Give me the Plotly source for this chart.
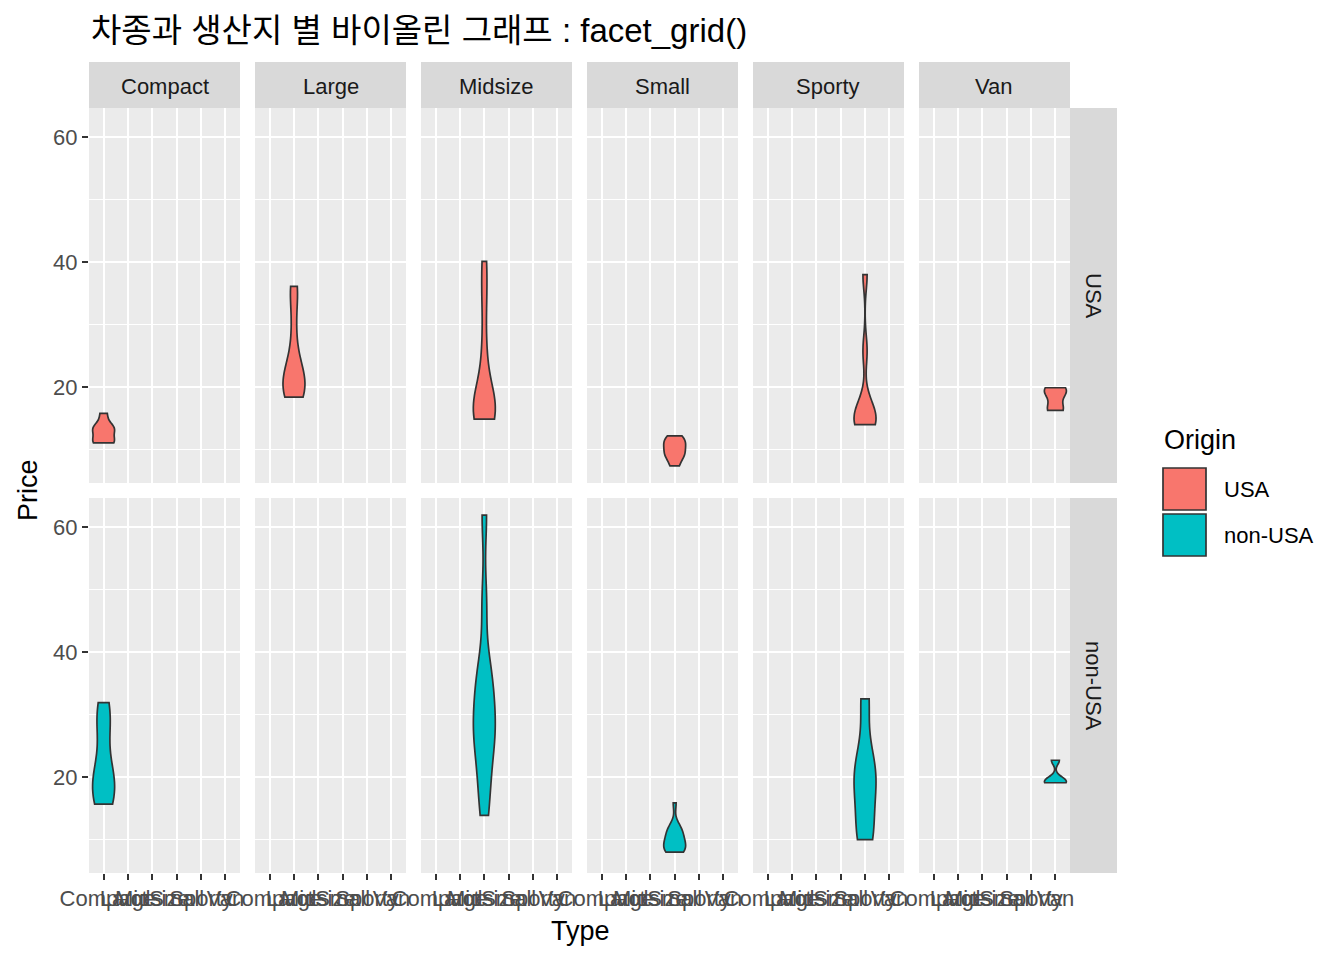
import numpy as np
import plotly.graph_objects as go

# ---------------- data (MASS::Cars93, Price by Type and Origin) ----------------
types = ["Compact", "Large", "Midsize", "Small", "Sporty", "Van"]
origins = ["USA", "non-USA"]

usa_compact = [13.4, 11.4, 15.8, 13.3, 11.3, 13.5, 11.1]
usa_large = [20.8, 23.7, 34.7, 18.8, 18.4, 29.5, 19.3, 20.9, 36.1, 20.7, 24.4]
usa_midsize = [15.7, 26.3, 40.1, 15.9, 15.6, 20.2, 34.3, 14.9, 16.3, 18.5]
usa_small = [9.2, 11.3, 12.2, 7.4, 10.1, 9.0, 11.1]
usa_sporty = [15.1, 38.0, 25.8, 15.9, 14.0, 14.1, 14.4, 17.7]
usa_van = [16.3, 16.6, 19.0, 19.9, 19.5]

nonusa_compact = [29.1, 17.5, 16.5, 31.9, 15.7, 28.7, 19.5, 20.0, 22.7]
nonusa_large = []
nonusa_midsize = [33.9, 37.7, 30.0, 13.9, 47.9, 28.0, 35.2, 61.9, 26.1, 21.5, 18.2, 26.7]
nonusa_small = [15.9, 8.4, 12.1, 8.0, 10.0, 8.3, 11.6, 10.3, 11.8, 8.4, 10.9, 8.6, 9.8, 9.1]
nonusa_sporty = [12.5, 19.8, 10.0, 32.5, 18.4, 23.3]
nonusa_van = [19.1, 19.1, 22.7, 19.7]

y_ticks = [20, 40, 60]
y_minor = [10, 30, 50]

prices = {
    "USA": [usa_compact, usa_large, usa_midsize, usa_small, usa_sporty, usa_van],
    "non-USA": [nonusa_compact, nonusa_large, nonusa_midsize, nonusa_small, nonusa_sporty, nonusa_van],
}
fill_colors = {"USA": "#F8766D", "non-USA": "#00BFC4"}

# ---------------- layout geometry (pixels) ----------------
W, H = 1344, 960
col_px = [(89, 240), (255, 406), (421, 572), (587, 738), (753, 904), (919, 1070)]
row_px = [(108, 483), (498, 873)]
strip_top = (62, 108)
strip_right = (1070, 1117)

FONT = "Liberation Sans, Arial, Noto Sans CJK KR, sans-serif"


def fx(p):
    return p / W


def fy(p):
    return 1 - p / H


def nrd0(x):
    x = np.asarray(x, dtype=float)
    hi = np.std(x, ddof=1)
    iqr = np.percentile(x, 75) - np.percentile(x, 25)
    lo = min(hi, iqr / 1.34)
    if not lo:
        lo = hi or abs(x[0]) or 1.0
    return 0.9 * lo * len(x) ** (-0.2)


all_vals = [v for o in origins for g in prices[o] for v in g]
ymin, ymax = min(all_vals), max(all_vals)
pad = 0.05 * (ymax - ymin)
y_range = [ymin - pad, ymax + pad]

fig = go.Figure()
layout_axes = {}
shapes = []
annotations = []

for r, origin in enumerate(origins):
    for c, tname in enumerate(types):
        k = r * 6 + c + 1
        xa = "x" if k == 1 else f"x{k}"
        ya = "y" if k == 1 else f"y{k}"
        xkey = "xaxis" if k == 1 else f"xaxis{k}"
        ykey = "yaxis" if k == 1 else f"yaxis{k}"
        vals = prices[origin][c]
        if len(vals) > 0:
            fig.add_trace(go.Violin(
                x=[tname] * len(vals), y=vals,
                xaxis=xa, yaxis=ya,
                name=f"{origin}-{tname}", scalegroup=f"{origin}-{tname}",
                scalemode="width", spanmode="hard", bandwidth=nrd0(vals),
                points=False, box_visible=False, meanline_visible=False,
                fillcolor=fill_colors[origin],
                line=dict(color="#333333", width=1.7),
                opacity=1, showlegend=False, hoveron="violins",
            ))
        else:
            # empty panel: keep the subplot drawn
            fig.add_trace(go.Scatter(x=[], y=[], xaxis=xa, yaxis=ya, mode="markers",
                                     showlegend=False, hoverinfo="skip"))
        x0, x1 = col_px[c]
        y0, y1 = row_px[r]
        layout_axes[xkey] = dict(
            domain=[fx(x0), fx(x1)], anchor=ya, automargin=False,
            type="category", categoryorder="array", categoryarray=types,
            range=[-0.6, len(types) - 0.4],
            tickmode="array", tickvals=types, ticktext=types,
            showticklabels=(r == 1), tickangle=0,
            ticks="outside" if r == 1 else "", ticklen=6, tickwidth=2, tickcolor="#333333",
            tickfont=dict(family=FONT, size=22, color="#4D4D4D"),
            showgrid=True, gridcolor="white", gridwidth=2.2,
            zeroline=False, showline=False, fixedrange=True,
        )
        layout_axes[ykey] = dict(
            domain=[fy(y1), fy(y0)], anchor=xa, automargin=False,
            range=y_range, tickmode="array", tickvals=y_ticks,
            showticklabels=(c == 0),
            ticks="outside" if c == 0 else "", ticklen=6, tickwidth=2, tickcolor="#333333",
            tickfont=dict(family=FONT, size=22, color="#4D4D4D"),
            showgrid=True, gridcolor="white", gridwidth=2.2,
            minor=dict(tickmode="array", tickvals=y_minor, showgrid=True,
                       gridcolor="white", gridwidth=1.1, ticks=""),
            zeroline=False, showline=False, fixedrange=True,
        )

# strips on top (Type)
for c, tname in enumerate(types):
    x0, x1 = col_px[c]
    shapes.append(dict(type="rect", xref="paper", yref="paper",
                       x0=fx(x0), x1=fx(x1), y0=fy(strip_top[1]), y1=fy(strip_top[0]),
                       fillcolor="#D9D9D9", line=dict(width=0), layer="below"))
    annotations.append(dict(text=tname, xref="paper", yref="paper",
                            x=fx((x0 + x1) / 2), y=fy((strip_top[0] + strip_top[1]) / 2 + 1),
                            xanchor="center", yanchor="middle", showarrow=False,
                            font=dict(family=FONT, size=22, color="#1A1A1A")))

# strips on right (Origin)
for r, origin in enumerate(origins):
    y0, y1 = row_px[r]
    shapes.append(dict(type="rect", xref="paper", yref="paper",
                       x0=fx(strip_right[0]), x1=fx(strip_right[1]), y0=fy(y1), y1=fy(y0),
                       fillcolor="#D9D9D9", line=dict(width=0), layer="below"))
    annotations.append(dict(text=origin, xref="paper", yref="paper",
                            x=fx((strip_right[0] + strip_right[1]) / 2), y=fy((y0 + y1) / 2),
                            xanchor="center", yanchor="middle", showarrow=False, textangle=90,
                            font=dict(family=FONT, size=22, color="#1A1A1A")))

# title and axis titles
annotations.append(dict(
    text="차종과 생산지 별 바이올린 그래프 : facet_grid()",
    xref="paper", yref="paper", x=fx(89), y=fy(30), xanchor="left", yanchor="middle",
    showarrow=False, font=dict(family=FONT, size=33, color="black")))
annotations.append(dict(text="Price", xref="paper", yref="paper", x=fx(28), y=fy(490),
                        xanchor="center", yanchor="middle", showarrow=False, textangle=-90,
                        font=dict(family=FONT, size=27, color="black")))
annotations.append(dict(text="Type", xref="paper", yref="paper", x=fx(580), y=fy(931),
                        xanchor="center", yanchor="middle", showarrow=False,
                        font=dict(family=FONT, size=27, color="black")))

# legend (drawn manually to match ggplot key size)
annotations.append(dict(text="Origin", xref="paper", yref="paper", x=fx(1162), y=fy(440),
                        xanchor="left", yanchor="middle", showarrow=False,
                        font=dict(family=FONT, size=27, color="black")))
key_y = [(468, 510), (514, 556)]
for origin, (ky0, ky1) in zip(origins, key_y):
    shapes.append(dict(type="rect", xref="paper", yref="paper",
                       x0=fx(1163), x1=fx(1206), y0=fy(ky1), y1=fy(ky0),
                       fillcolor=fill_colors[origin], line=dict(color="#333333", width=1.7)))
    annotations.append(dict(text=origin, xref="paper", yref="paper", x=fx(1222),
                            y=fy((ky0 + ky1) / 2), xanchor="left", yanchor="middle",
                            showarrow=False, font=dict(family=FONT, size=22, color="black")))

fig.update_layout(
    width=W, height=H, margin=dict(l=0, r=0, t=0, b=0, pad=0, autoexpand=False),
    paper_bgcolor="white", plot_bgcolor="#EBEBEB",
    showlegend=False, violinmode="overlay", violingap=0.1, violingroupgap=0,
    shapes=shapes, annotations=annotations,
    font=dict(family=FONT),
    **layout_axes,
)

fig.write_html("out.html")
